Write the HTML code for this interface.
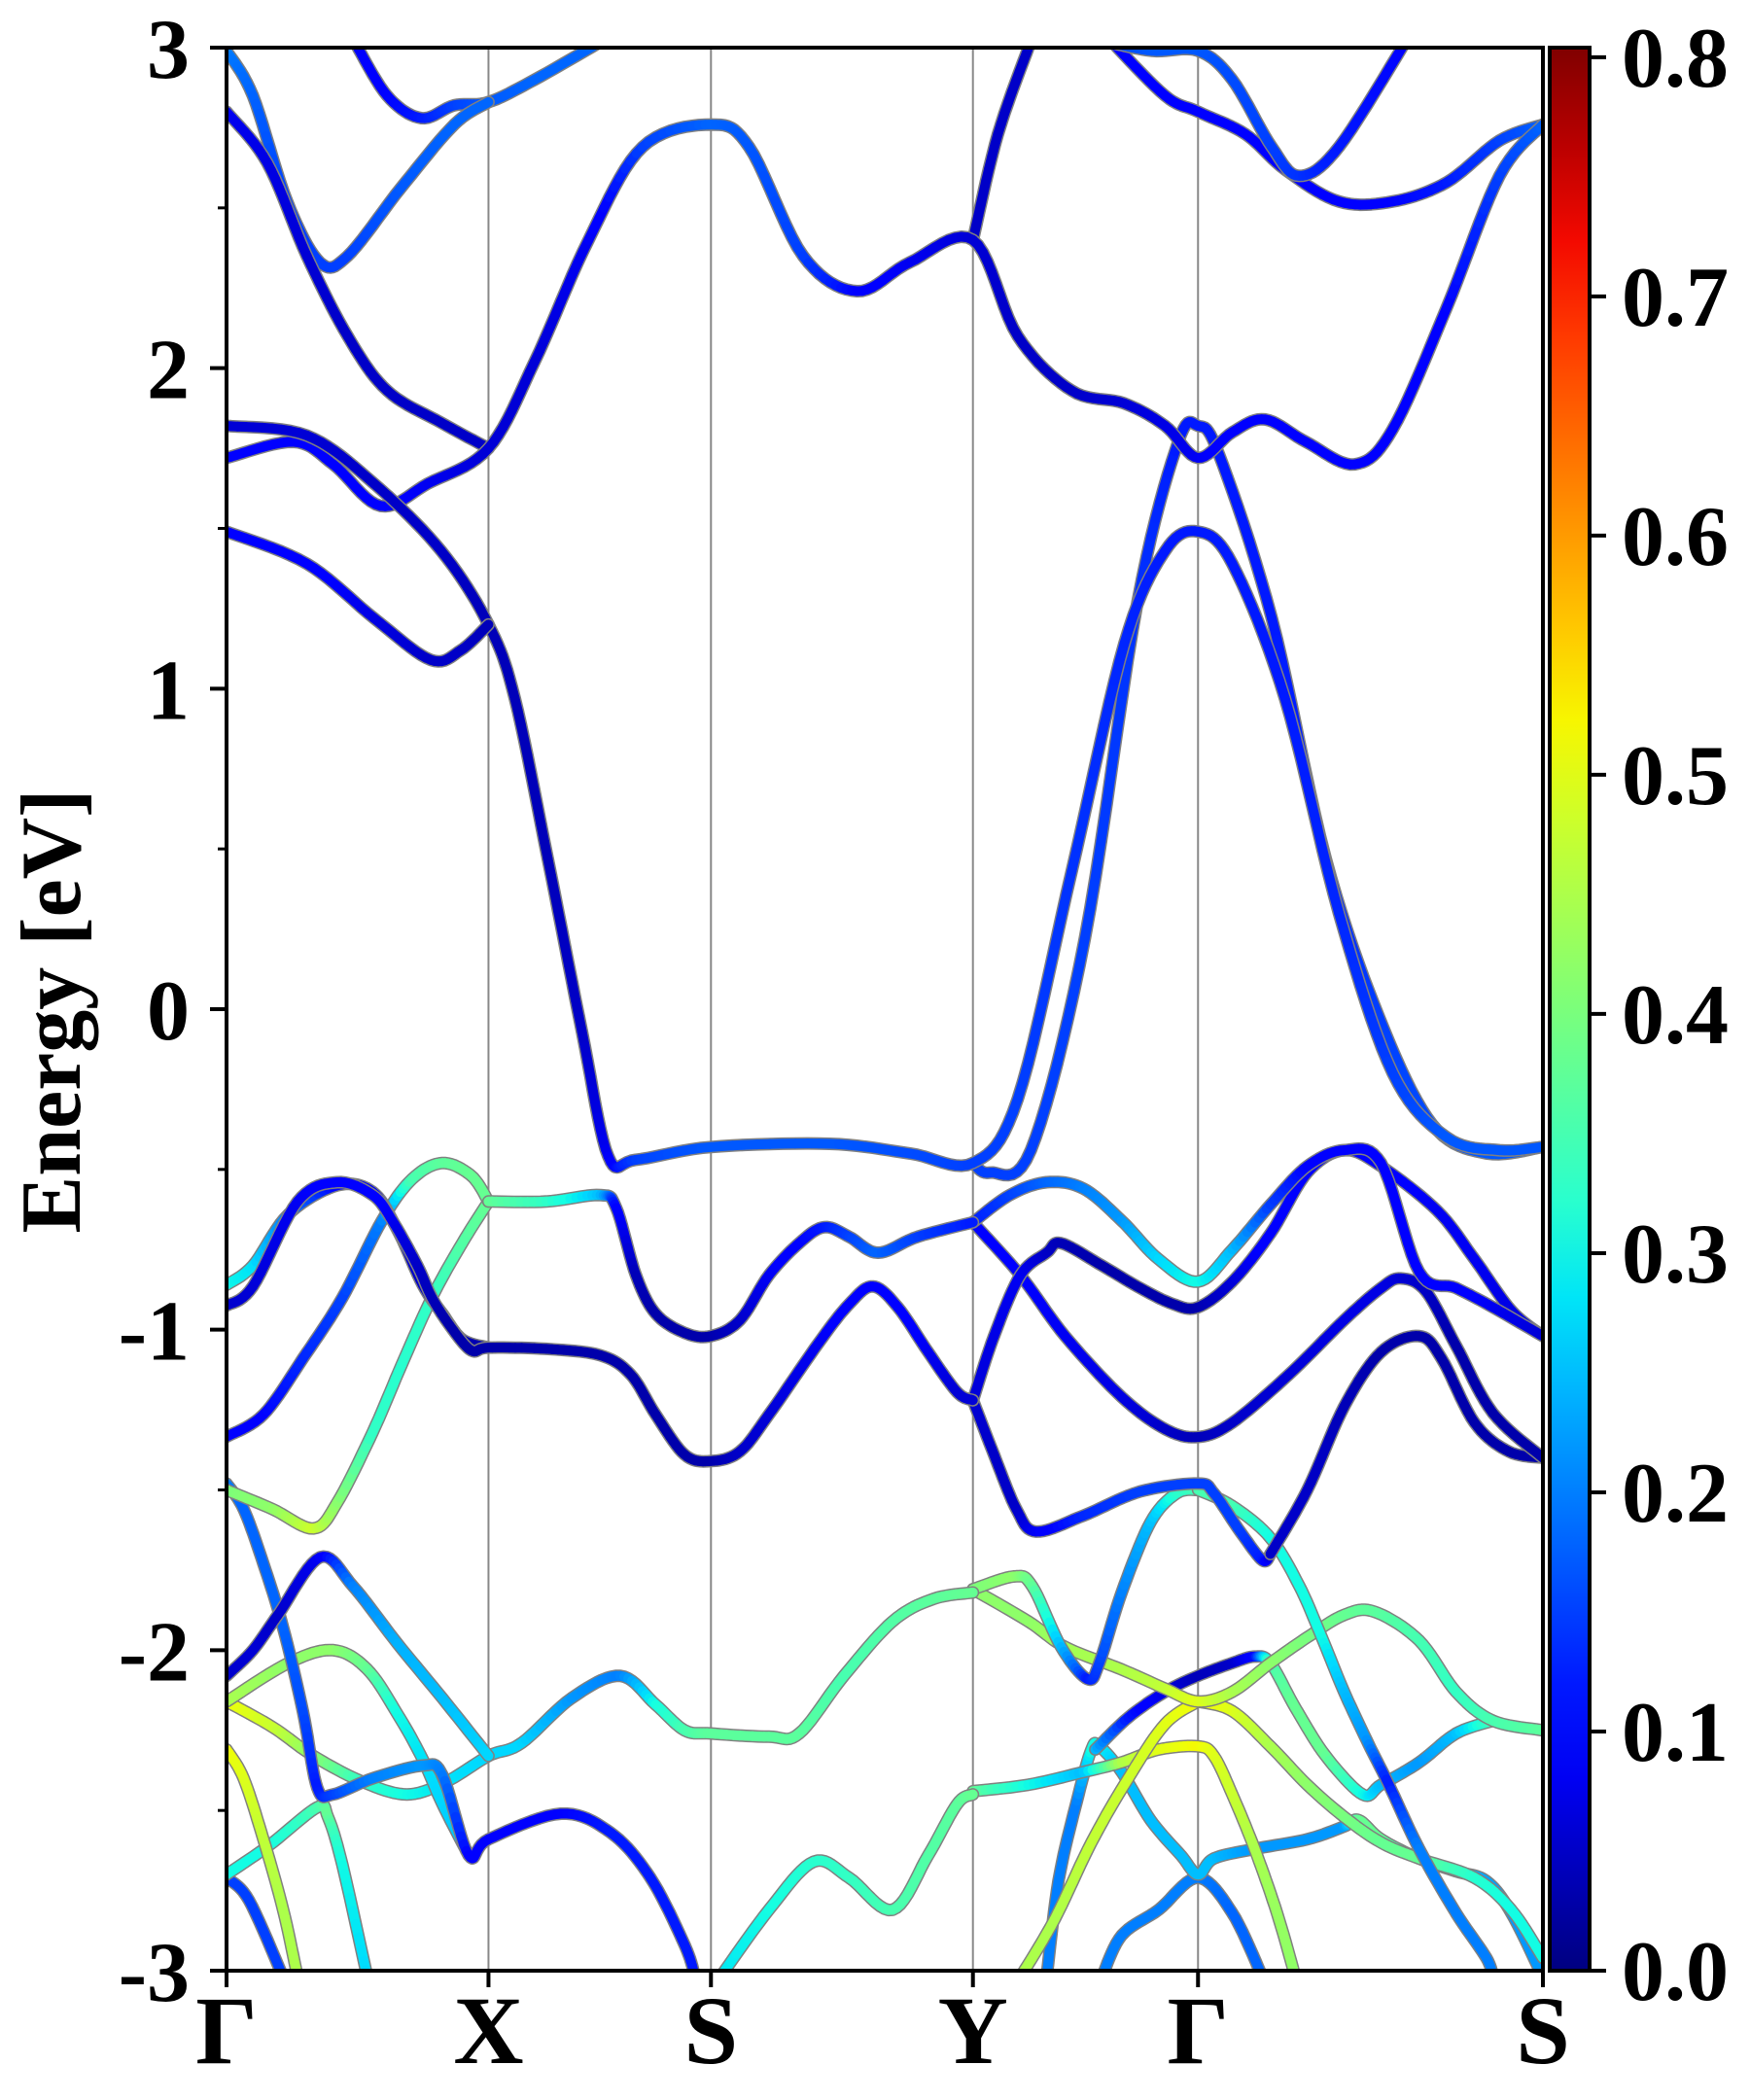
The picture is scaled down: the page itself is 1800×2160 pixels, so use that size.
<!DOCTYPE html>
<html>
<head>
<meta charset="utf-8">
<style>
html,body{margin:0;padding:0;background:#fff;}
svg{display:block;}
text{font-family:"Liberation Serif","DejaVu Serif",serif;font-weight:bold;fill:#000;}
</style>
</head>
<body>
<svg id="chart" width="1800" height="2160" viewBox="0 0 1800 2160" xmlns="http://www.w3.org/2000/svg">
  <defs>
    <clipPath id="plotClip"><rect x="233" y="49" width="1354" height="1978"/></clipPath>
    <linearGradient id="jetGrad" x1="0" y1="1" x2="0" y2="0"></linearGradient>
  </defs>
  <rect x="233" y="49" width="1354" height="1978" fill="#fff"/>
  <g id="gridLayer"></g>
  <g id="bandLayer" clip-path="url(#plotClip)"></g>
  <g id="axisLayer"></g>
  <g id="cbarLayer"></g>
  <text x="0" y="0" font-size="88" text-anchor="middle" transform="translate(82,1040) rotate(-90)">Energy [eV]</text>
</svg>
<script>
// ---- axis data ----
const kLabels = ["Γ","X","S","Y","Γ","S"];
const kTicks = [0, 19.9, 36.8, 56.7, 73.8, 100];
const yTicks = [-3, -2, -1, 0, 1, 2, 3];
const yMinorTicks = [-2.5, -1.5, -0.5, 0.5, 1.5, 2.5];
const cbarTicks = [0.0, 0.1, 0.2, 0.3, 0.4, 0.5, 0.6, 0.7, 0.8];
const cbarMax = 0.804;

// ---- band data: [k (% of path), energy eV, weight] ----
const bandC1 = [[0,1.49,.1],[6.1,1.39,.1],[11.2,1.22,.07],[15.5,1.09,.05],[17.8,1.12,.05],[19.9,1.20,.04]];
const bandC2 = [[0,1.82,.06],[6.1,1.79,.06],[11.2,1.64,.05],[16.3,1.43,.05],[19.9,1.20,.04],[21.9,0.97,.04],[24.4,0.47,.04],[27.0,-0.07,.05],[29.0,-0.46,.08],[31.1,-0.47,.15],[36.8,-0.43,.17],[45.8,-0.42,.17],[51.9,-0.45,.16],[56.7,-0.48,.15],[60.1,-0.28,.15],[64.2,0.43,.14],[68.2,1.14,.13],[71.3,1.43,.12],[73.8,1.49,.12],[76.4,1.39,.12],[80.4,0.97,.12],[84.5,0.30,.13],[88.6,-0.20,.15],[92.7,-0.40,.17],[96.7,-0.44,.17],[100,-0.43,.17]];
const bandC3 = [[0,1.72,.1],[5.1,1.77,.1],[8.1,1.70,.1],[11.7,1.57,.1],[15.3,1.64,.08],[19.9,1.75,.06],[23.4,2.02,.06],[27.5,2.40,.08],[31.6,2.69,.15],[36.8,2.76,.18],[39.7,2.69,.17],[43.8,2.35,.15],[47.9,2.24,.1],[51.9,2.33,.08],[56.7,2.40,.06],[60.1,2.10,.05],[64.2,1.93,.05],[68.2,1.89,.06],[71.3,1.82,.07],[73.8,1.72,.08],[76.4,1.80,.1],[78.9,1.84,.1],[82.0,1.77,.1],[85.7,1.70,.1],[88.6,1.81,.1],[92.7,2.19,.1],[96.7,2.60,.15],[100,2.76,.18]];
const bandC4 = [[56.7,-0.48,.15],[58.0,-0.51,.15],[61.1,-0.44,.15],[65.2,0.22,.15],[69.2,1.27,.14],[72.3,1.77,.12],[73.8,1.82,.12],[75.4,1.73,.12],[79.4,1.22,.12],[83.5,0.47,.13],[87.6,-0.03,.15],[91.6,-0.36,.16],[95.7,-0.45,.17],[100,-0.43,.17]];
const bandC5 = [[0,2.80,.08],[3.1,2.64,.07],[6.1,2.35,.06],[9.2,2.10,.05],[12.2,1.93,.05],[16.3,1.83,.05],[19.9,1.75,.05]];
const bandC6 = [[0,2.99,.2],[2.0,2.85,.18],[4.6,2.52,.15],[7.1,2.33,.15],[9.2,2.35,.15],[13.2,2.56,.17],[17.3,2.76,.18],[19.9,2.83,.18]];
const bandC7 = [[9.7,3.02,.08],[12.2,2.85,.1],[14.8,2.78,.12],[17.3,2.82,.15],[19.9,2.83,.17],[23.4,2.90,.18],[28.5,3.02,.18]];
const bandC8 = [[56.7,2.40,.05],[58.6,2.73,.05],[61.1,3.02,.05]];
const bandC9 = [[66.7,3.02,.15],[70.3,2.99,.17],[73.8,2.99,.17],[76.4,2.90,.16],[79.4,2.69,.15],[81.5,2.60,.14],[84.5,2.69,.12],[89.6,3.02,.1]];
const bandC10 = [[67.2,3.02,.1],[71.3,2.85,.1],[73.8,2.80,.1],[77.4,2.73,.1],[80.4,2.62,.1],[84.5,2.52,.1],[88.6,2.52,.1],[92.7,2.58,.12],[96.7,2.71,.15],[100,2.76,.18]];

const bandVA = [[0,-0.925,.05],[2.0,-0.865,.06],[5.4,-0.60,.08],[8.4,-0.54,.1],[11.1,-0.58,.1],[12.6,-0.66,.08],[14.5,-0.80,.05],[15.6,-0.90,.04],[17.1,-0.995,.03],[18.6,-1.065,.03],[19.9,-1.056,.03],[24.3,-1.06,.03],[28.4,-1.08,.03],[30.7,-1.14,.03],[32.6,-1.265,.03],[34.8,-1.39,.03],[36.8,-1.41,.03],[39.0,-1.38,.05],[41.2,-1.265,.06],[45.0,-1.04,.08],[47.3,-0.92,.1],[49.1,-0.865,.1],[51.0,-0.93,.1],[53.3,-1.07,.08],[55.5,-1.195,.06],[56.7,-1.22,.06]];
const bandVA2 = [[0,-0.86,.3],[2.0,-0.80,.28],[4.7,-0.64,.2],[8.4,-0.55,.1],[11.1,-0.57,.08],[13.0,-0.69,.06],[14.9,-0.86,.05],[16.4,-0.95,.05],[17.9,-1.03,.04],[19.9,-1.056,.03]];
const bandVB = [[19.9,-0.60,.38],[24.3,-0.60,.33],[28.4,-0.58,.25],[29.6,-0.62,.1],[31.1,-0.83,.04],[32.6,-0.95,.03],[34.8,-1.01,.03],[36.8,-1.02,.03],[39.0,-0.97,.05],[41.2,-0.83,.08],[43.5,-0.73,.1],[45.4,-0.68,.12],[47.3,-0.71,.15],[49.5,-0.76,.18],[52.5,-0.71,.15],[56.7,-0.665,.12]];
const bandVC = [[0,-1.334,.1],[2.8,-1.265,.1],[5.8,-1.09,.13],[8.8,-0.90,.15],[11.8,-0.66,.2],[14.1,-0.53,.35],[16.4,-0.48,.37],[18.6,-0.52,.38],[19.9,-0.60,.38]];
const bandVD = [[0,-1.50,.4],[3.5,-1.56,.42],[6.6,-1.62,.48],[8.4,-1.54,.42],[11.1,-1.32,.33],[13.3,-1.11,.32],[15.6,-0.90,.33],[17.9,-0.73,.36],[19.9,-0.60,.38]];
const bandVE = [[0,-2.08,.05],[2.0,-2.0,.06],[3.9,-1.89,.05],[7.1,-1.71,.08],[9.6,-1.80,.2],[13.0,-1.98,.24],[16.4,-2.15,.25],[19.9,-2.33,.27]];
const bandVF = [[0,-1.48,.2],[1.3,-1.56,.18],[2.8,-1.73,.18],[4.3,-1.93,.18],[5.8,-2.19,.16],[6.9,-2.43,.12],[8.1,-2.45,.15],[11.1,-2.40,.2],[14.9,-2.36,.22],[16.4,-2.39,.2],[18.4,-2.64,.1],[19.9,-2.59,.1],[25.4,-2.51,.1],[29.2,-2.57,.12],[32.2,-2.71,.12],[34.8,-2.92,.12],[35.6,-3.02,.12]];
const bandVG = [[0,-2.16,.45],[4.7,-2.04,.42],[8.1,-2.0,.42],[10.7,-2.06,.38],[13.0,-2.2,.3],[14.9,-2.34,.28],[16.4,-2.48,.27],[18.4,-2.64,.25]];
const bandVH = [[0,-2.16,.52],[3.5,-2.24,.48],[6.6,-2.33,.42],[10.3,-2.41,.33],[13.7,-2.45,.3],[16.7,-2.41,.28],[19.9,-2.33,.27],[22.4,-2.29,.27],[26.2,-2.15,.22],[29.9,-2.08,.2],[32.6,-2.17,.3],[34.8,-2.25,.35],[36.8,-2.26,.37],[41.2,-2.27,.37],[43.5,-2.26,.37],[46.9,-2.08,.35],[50.6,-1.91,.36],[53.7,-1.84,.37],[56.7,-1.82,.38]];
const bandVI = [[0,-2.31,.52],[1.3,-2.40,.5],[2.8,-2.59,.47],[4.3,-2.81,.45],[5.4,-3.02,.45]];
const bandVJ = [[0,-2.70,.3],[3.2,-2.61,.3],[6.9,-2.49,.35],[7.7,-2.52,.38],[8.8,-2.67,.3],[10.7,-3.02,.27]];
const bandVK = [[0,-2.71,.15],[1.7,-2.78,.15],[4.3,-3.02,.15]];
const bandVL = [[37.5,-3.02,.28],[41.2,-2.81,.3],[44.6,-2.66,.32],[47.3,-2.71,.33],[50.6,-2.81,.35],[53.3,-2.64,.36],[55.5,-2.48,.37],[56.7,-2.45,.38]];

const bandP1 = [[56.7,-0.665,.12],[59.5,-0.58,.15],[62.3,-0.54,.18],[65.1,-0.56,.2],[68.0,-0.66,.22],[70.8,-0.78,.27],[73.8,-0.85,.3],[76.4,-0.75,.25],[79.3,-0.61,.15],[82.1,-0.49,.1],[84.9,-0.44,.1],[87.7,-0.48,.1],[90.6,-0.82,.1],[93.4,-0.87,.1],[96.2,-0.93,.08],[100,-1.02,.06]];
const bandP2 = [[56.7,-0.665,.1],[60.3,-0.83,.09],[63.7,-1.02,.08],[68.0,-1.21,.07],[71.3,-1.31,.05],[73.8,-1.335,.04],[76.4,-1.29,.05],[80.7,-1.14,.06],[84.9,-0.97,.07],[87.7,-0.87,.07],[89.2,-0.84,.06],[91.1,-0.88,.05],[93.4,-1.05,.03],[96.2,-1.26,.03],[100,-1.40,.03]];
const bandP3 = [[56.7,-1.22,.06],[58.3,-1.02,.07],[60.3,-0.83,.08],[62.3,-0.76,.05],[63.4,-0.73,.04],[66.5,-0.80,.03],[69.4,-0.87,.03],[71.9,-0.92,.03],[73.8,-0.93,.03],[76.4,-0.85,.06],[79.3,-0.70,.1],[82.1,-0.51,.1],[84.9,-0.44,.1],[87.7,-0.49,.1],[92.0,-0.63,.08],[94.8,-0.78,.08],[97.6,-0.94,.07],[100,-1.02,.06]];
const bandP4 = [[79.3,-1.70,.05],[82.1,-1.50,.05],[84.9,-1.24,.04],[87.7,-1.07,.03],[90.6,-1.02,.03],[92.3,-1.09,.03],[94.8,-1.29,.03],[97.4,-1.38,.03],[100,-1.40,.03]];
const bandP5 = [[56.7,-1.22,.06],[58.3,-1.39,.05],[60.0,-1.56,.05],[61.5,-1.63,.08],[65.1,-1.58,.13],[69.4,-1.505,.15],[73.8,-1.48,.15],[75.0,-1.51,.15],[77.0,-1.63,.15],[78.7,-1.72,.12],[79.3,-1.70,.05]];
const bandP6 = [[73.8,-1.50,.35],[76.4,-1.55,.35],[79.3,-1.65,.3],[81.5,-1.80,.3],[83.2,-1.96,.3],[84.9,-2.13,.25],[86.6,-2.28,.22],[88.3,-2.42,.12],[90.6,-2.62,.2],[93.4,-2.82,.2],[95.7,-2.96,.2],[96.2,-3.02,.2]];
const bandL1 = [[56.7,-1.81,.4],[59.8,-1.77,.42],[61.2,-1.80,.38],[63.4,-1.99,.25],[65.4,-2.09,.12],[66.3,-2.04,.15],[68.0,-1.82,.2],[70.2,-1.60,.25],[72.2,-1.51,.32],[73.8,-1.50,.35]];
const bandL2 = [[56.7,-1.81,.42],[60.9,-1.91,.42],[63.7,-1.99,.44],[68.0,-2.06,.45],[71.3,-2.12,.47],[73.8,-2.16,.5],[76.4,-2.13,.45],[79.3,-2.04,.42],[82.1,-1.96,.4],[84.9,-1.89,.38],[87.2,-1.88,.37],[90.6,-1.97,.35],[93.4,-2.13,.33],[96.2,-2.22,.35],[100,-2.25,.37]];
const bandL3 = [[66.0,-2.31,.25],[68.5,-2.21,.12],[71.3,-2.13,.07],[73.8,-2.08,.04],[76.4,-2.04,.05],[78.1,-2.02,.1],[79.3,-2.04,.35],[81.2,-2.18,.38],[83.5,-2.33,.38],[86.3,-2.45,.3],[87.7,-2.42,.25],[90.6,-2.35,.22],[93.4,-2.26,.25],[96.2,-2.22,.35]];
const bandL4 = [[73.8,-2.16,.52],[76.4,-2.19,.5],[79.3,-2.30,.45],[82.1,-2.42,.42],[84.9,-2.52,.4],[87.7,-2.60,.38],[90.6,-2.65,.38],[94.8,-2.71,.32],[97.6,-2.81,.3],[100,-2.96,.3]];
const bandL5 = [[60.3,-3.02,.45],[62.9,-2.84,.45],[65.7,-2.60,.47],[68.5,-2.40,.48],[71.3,-2.23,.5],[73.8,-2.16,.52]];
const bandL6 = [[56.7,-2.44,.38],[60.9,-2.42,.3],[65.1,-2.38,.25],[68.0,-2.35,.45],[70.8,-2.31,.5],[73.8,-2.30,.52],[75.0,-2.33,.5],[76.4,-2.45,.48],[78.1,-2.62,.45],[79.8,-2.82,.43],[81.2,-3.02,.42]];
const bandL7 = [[62.3,-3.02,.2],[63.2,-2.72,.2],[64.6,-2.47,.2],[65.7,-2.31,.3],[66.3,-2.30,.3],[68.0,-2.38,.25],[70.2,-2.53,.25],[72.5,-2.64,.25],[73.8,-2.70,.25],[75.0,-2.65,.25],[78.1,-2.62,.22],[82.1,-2.59,.22],[84.9,-2.55,.22],[86.0,-2.53,.38],[87.7,-2.59,.38],[90.6,-2.65,.33],[93.4,-2.69,.25],[95.7,-2.72,.23],[97.6,-2.82,.22],[100,-3.02,.22]];
const bandL8 = [[66.5,-3.02,.2],[68.0,-2.89,.2],[70.8,-2.81,.2],[73.8,-2.71,.2],[76.4,-2.82,.18],[78.7,-3.02,.18]];

const bands = [bandL8,bandL7,bandL6,bandL5,bandL4,bandL3,bandL2,bandL1,bandVK,bandVJ,bandVI,bandVL,bandVH,bandVG,bandVF,bandVE,
  bandP6,bandP5,bandP4,bandVD,bandVC,bandP2,bandP3,bandP1,bandVB,bandVA2,bandVA,
  bandC10,bandC9,bandC8,bandC7,bandC6,bandC5,bandC4,bandC3,bandC2,bandC1];

// ---- scales ----
const X0 = 233, X1 = 1587, Y0 = 49, Y1 = 2027, EMIN = -3, EMAX = 3;
function xScale(k){ return X0 + k / 100 * (X1 - X0); }
function yScale(e){ return Y0 + (EMAX - e) / (EMAX - EMIN) * (Y1 - Y0); }
const CB_X = 1594, CB_W = 41;
function cbScale(v){ return Y1 - v / cbarMax * (Y1 - Y0); }

function jet(t){
  t = Math.max(0, Math.min(1, t));
  function seg(pts){
    for (let i = 0; i < pts.length - 1; i++){
      const a = pts[i], b = pts[i+1];
      if (t >= a[0] && t <= b[0]) return a[1] + (b[1]-a[1]) * (t-a[0]) / (b[0]-a[0] || 1);
    }
    return pts[pts.length-1][1];
  }
  const r = seg([[0,0],[0.35,0],[0.66,1],[0.89,1],[1,0.5]]);
  const g = seg([[0,0],[0.125,0],[0.375,1],[0.64,1],[0.91,0],[1,0]]);
  const b = seg([[0,0.5],[0.11,1],[0.34,1],[0.65,0],[1,0]]);
  return `rgb(${Math.round(r*255)},${Math.round(g*255)},${Math.round(b*255)})`;
}

const NS = "http://www.w3.org/2000/svg";
function mk(tag, attrs, parent){
  const el = document.createElementNS(NS, tag);
  for (const k in attrs) el.setAttribute(k, attrs[k]);
  parent.appendChild(el);
  return el;
}

// ---- high-symmetry lines ----
const grid = document.getElementById("gridLayer");
kTicks.slice(1, -1).forEach((k) => {
  const ln = mk("line", {x1: xScale(k), x2: xScale(k), y1: Y0, y2: Y1, stroke: "#888", "stroke-width": 2}, grid);
  
  
});

// ---- bands ----
const bandLayer = document.getElementById("bandLayer");
function smooth(pts){
  const P = pts.map(p => [xScale(p[0]), yScale(p[1]), p[2]]);
  const out = [];
  const n = P.length;
  for (let i = 0; i < n - 1; i++){
    const p0 = P[Math.max(0, i-1)], p1 = P[i], p2 = P[i+1], p3 = P[Math.min(n-1, i+2)];
    const steps = 10;
    for (let s = 0; s < steps; s++){
      const t = s / steps, t2 = t*t, t3 = t2*t;
      const x = 0.5*((2*p1[0]) + (-p0[0]+p2[0])*t + (2*p0[0]-5*p1[0]+4*p2[0]-p3[0])*t2 + (-p0[0]+3*p1[0]-3*p2[0]+p3[0])*t3);
      const y = 0.5*((2*p1[1]) + (-p0[1]+p2[1])*t + (2*p0[1]-5*p1[1]+4*p2[1]-p3[1])*t2 + (-p0[1]+3*p1[1]-3*p2[1]+p3[1])*t3);
      out.push([x, y, p1[2] + (p2[2]-p1[2])*t]);
    }
  }
  out.push(P[n-1]);
  return out;
}
bands.forEach((b) => {
  const g = mk("g", {}, bandLayer);
  
  
  const pts = smooth(b);
  const d = "M" + pts.map(p => p[0].toFixed(1) + "," + p[1].toFixed(1)).join("L");
  mk("path", {d: d, fill: "none", stroke: "#808080", "stroke-width": 13, "stroke-linejoin": "round", "stroke-linecap": "round"}, g);
  for (let i = 0; i < pts.length - 1; i++){
    const a = pts[i], c = pts[i+1];
    mk("line", {x1: a[0].toFixed(1), y1: a[1].toFixed(1), x2: c[0].toFixed(1), y2: c[1].toFixed(1),
      stroke: jet(((a[2]+c[2])/2) / cbarMax), "stroke-width": 10, "stroke-linecap": "round"}, g);
  }
});

// ---- axes ----
const ax = document.getElementById("axisLayer");
const frame = mk("rect", {x: X0, y: Y0, width: X1-X0, height: Y1-Y0, fill: "none", stroke: "#000", "stroke-width": 4}, ax);


yTicks.forEach((v) => {
  const y = yScale(v);
  const t = mk("line", {x1: X0-17, x2: X0, y1: y, y2: y, stroke: "#000", "stroke-width": 4}, ax);
  
  
  const lb = mk("text", {x: X0-38, y: y+31, "font-size": 88, "text-anchor": "end"}, ax);
  lb.textContent = String(v);
  
  
});
yMinorTicks.forEach((v) => {
  const y = yScale(v);
  const t = mk("line", {x1: X0-9, x2: X0, y1: y, y2: y, stroke: "#000", "stroke-width": 3}, ax);
  
  
});
kTicks.forEach((k, i) => {
  const x = xScale(k);
  const t = mk("line", {x1: x, x2: x, y1: Y1, y2: Y1+17, stroke: "#000", "stroke-width": 4}, ax);
  
  
  const lb = mk("text", {x: x, y: 2122, "font-size": 100, "text-anchor": "middle"}, ax);
  lb.textContent = kLabels[i];
  
  
});

// ---- colorbar ----
const grad = document.getElementById("jetGrad");
for (let i = 0; i <= 20; i++){
  mk("stop", {offset: (i/20).toFixed(3), "stop-color": jet(i/20)}, grad);
}
const cb = document.getElementById("cbarLayer");
const cbRect = mk("rect", {x: CB_X, y: Y0, width: CB_W, height: Y1-Y0, fill: "url(#jetGrad)", stroke: "#000", "stroke-width": 4}, cb);


cbarTicks.forEach((v) => {
  const y = cbScale(v);
  const t = mk("line", {x1: CB_X+CB_W, x2: CB_X+CB_W+17, y1: y, y2: y, stroke: "#000", "stroke-width": 4}, cb);
  
  
  const lb = mk("text", {x: 1668, y: y+30, "font-size": 88, "text-anchor": "start"}, cb);
  lb.textContent = v.toFixed(1);
  
  
});
</script>
</body>
</html>
